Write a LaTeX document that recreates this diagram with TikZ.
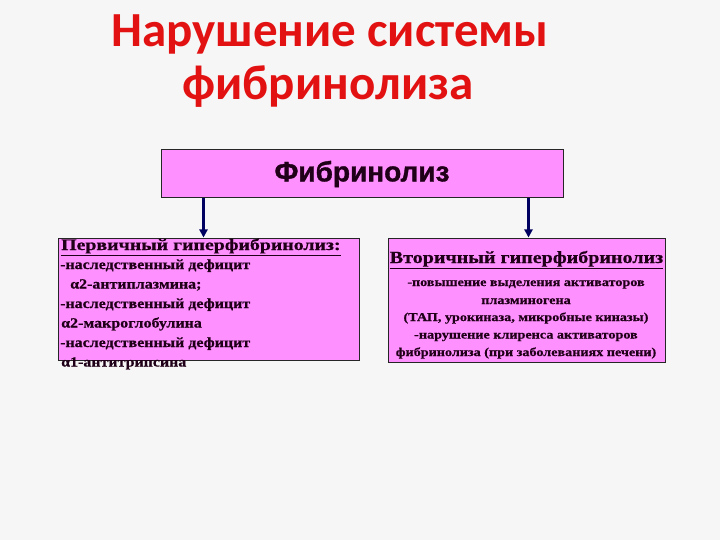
\documentclass[tikz,border=0pt]{standalone}
\usepackage{fontspec}
\setmainfont{Liberation Serif}
\newfontfamily\titlefont{Carlito}
\newfontfamily\heavysans{Liberation Sans Bold}[FakeBold=1.2]
\newfontfamily\lhead{Liberation Serif Bold}[FakeStretch=1.24, FakeBold=0.6]
\newfontfamily\lbody{Liberation Serif Bold}[FakeStretch=1.14, FakeBold=0.6]
\newfontfamily\rhead{Liberation Serif Bold}[FakeStretch=1.18, FakeBold=0.6]
\newfontfamily\rbody{Liberation Serif Bold}[FakeStretch=1.18, FakeBold=0.5]
\usetikzlibrary{arrows.meta}
\definecolor{bg}{HTML}{F6F6F6}
\definecolor{pinkfill}{HTML}{FF90FF}
\definecolor{titlered}{HTML}{E31212}
\definecolor{navy}{HTML}{000060}
\definecolor{boxtext}{HTML}{200018}
\tikzset{
  pinkbox/.style={draw=black!85, line width=1pt, fill=pinkfill, inner sep=0pt},
  ttl/.style={font=\titlefont\bfseries\fontsize{49}{53}\selectfont, text=titlered, anchor=base, inner sep=0pt},
  ltxt/.style={font=\lbody\fontsize{14}{19.5}\selectfont, text=boxtext, anchor=base west, inner sep=0pt},
  rtxt/.style={font=\rbody\fontsize{12}{17.5}\selectfont, text=boxtext, anchor=base, inner sep=0pt},
  conn/.style={navy, line width=2.2pt, -{Triangle[length=8pt,width=8pt]}}
}
\begin{document}
\begin{tikzpicture}[x=1pt,y=-1pt]
\fill[bg] (0,0) rectangle (720,540);
\useasboundingbox (0,0) rectangle (720,540);
\node[ttl] (t1) at (330,47) {Нарушение системы};
\node[ttl] (t2) at (328,100) {фибринолиза};
\node[pinkbox, minimum width=402pt, minimum height=48pt] (fib) at (362,174) {};
\node[font=\heavysans\fontsize{28}{30}\selectfont, text=boxtext] (fibt) at (fib.center) {Фибринолиз};
\node[pinkbox, minimum width=301pt, minimum height=122pt] (prim) at (208.5,299) {};
\node[pinkbox, minimum width=277pt, minimum height=124pt] (sec) at (526.5,300) {};
\coordinate (a1) at ([xshift=43pt]fib.south west);
\coordinate (a2) at ([xshift=-35pt]fib.south east);
\draw[conn] (a1) -- (a1 |- prim.north);
\draw[conn] (a2) -- (a2 |- sec.north);
\node[ltxt, font=\lhead\fontsize{16}{19.5}\selectfont] (p0) at (61,250) {\underline{Первичный гиперфибринолиз:}};
\node[ltxt] (p1) at (60,269) {-наследственный дефицит};
\node[ltxt] (p2) at (70,288.5) {α2-антиплазмина;};
\node[ltxt] (p3) at (60,308) {-наследственный дефицит};
\node[ltxt] (p4) at (61,327.5) {α2-макроглобулина};
\node[ltxt] (p5) at (60,347) {-наследственный дефицит};
\node[ltxt] (p6) at (61,366.5) {α1-антитрипсина};
\node[rtxt, font=\rhead\fontsize{17}{19}\selectfont] (s0) at (526.5,263) {\underline{Вторичный гиперфибринолиз}};
\node[rtxt] (s1) at (526,286) {-повышение выделения активаторов};
\node[rtxt] (s2) at (526,304) {плазминогена};
\node[rtxt] (s3) at (526,321) {(ТАП, урокиназа, микробные киназы)};
\node[rtxt] (s4) at (526,338.5) {-нарушение клиренса активаторов};
\node[rtxt] (s5) at (526,356) {фибринолиза (при заболеваниях печени)};
\end{tikzpicture}
\end{document}
